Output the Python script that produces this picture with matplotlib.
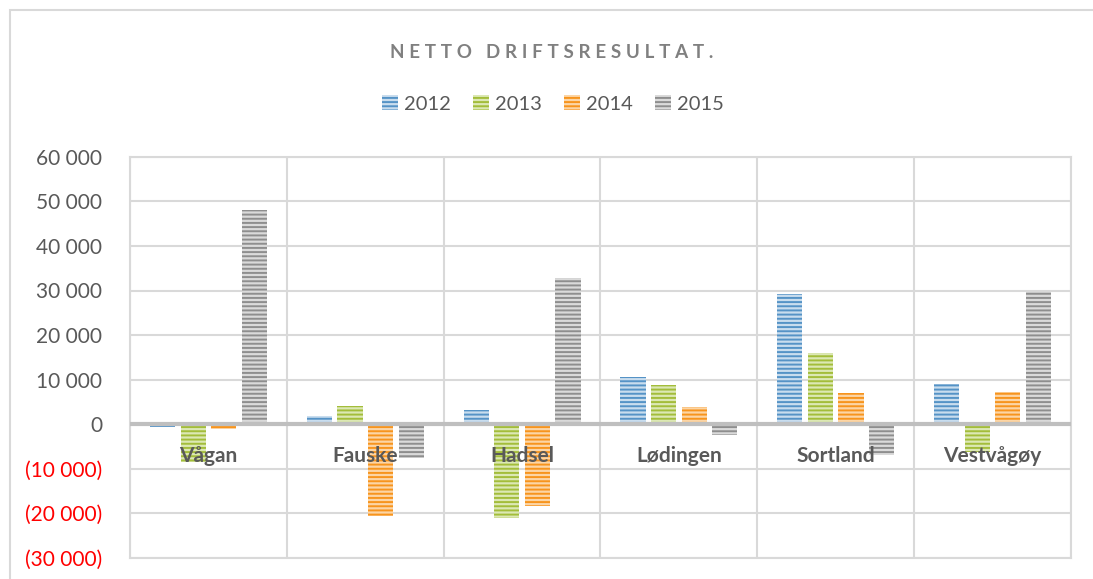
import matplotlib.pyplot as plt
import matplotlib.patches as mpatches
import numpy as np

plt.rcParams['font.family'] = ['Lato', 'DejaVu Sans']
plt.rcParams['hatch.linewidth'] = 1.4

kommuner = ["Vågan", "Fauske", "Hadsel", "Lødingen", "Sortland", "Vestvågøy"]
years = ["2012", "2013", "2014", "2015"]
res_2012 = [-600, 1700, 3200, 10500, 29200, 9000]
res_2013 = [-8500, 4100, -21100, 8700, 16000, -6400]
res_2014 = [-1100, -20700, -18400, 3900, 7000, 7100]
res_2015 = [48000, -7600, 32700, -2400, -7000, 29600]
series = [res_2012, res_2013, res_2014, res_2015]

dark = ["#5593C6", "#A3BD3A", "#F7941D", "#8E8E8E"]
light = ["#C9DDEE", "#DCE8B4", "#FCD5A5", "#DADADA"]

fig = plt.figure(figsize=(10.93, 5.79), dpi=100)
W, H = 1093, 579

# outer chart frame
fig.patches.append(mpatches.Rectangle((10 / W, -0.1), 1.2, 1 - 10 / H + 0.1,
                                      transform=fig.transFigure, fill=False,
                                      edgecolor="#D9D9D9", linewidth=1.5))

ax = fig.add_axes([130 / W, (H - 557.5) / H, (1071 - 130) / W, (557.5 - 157) / H])

x = np.arange(len(kommuner))
step = 0.195
width = 0.16
for k, vals in enumerate(series):
    ax.bar(x + (k - 1.5) * step, vals, width, facecolor=light[k],
           edgecolor=dark[k], hatch="----", linewidth=0, zorder=3)

ax.set_xlim(-0.5, len(kommuner) - 0.5)
ax.set_ylim(-30000, 60000)
ax.set_yticks(np.arange(-30000, 60001, 10000))

def fmt(v):
    s = f"{abs(v):,.0f}".replace(",", " ")
    return f"({s})" if v < 0 else s

ticks = ax.get_yticks()
ax.set_yticklabels([fmt(v) for v in ticks])
for lab, v in zip(ax.get_yticklabels(), ticks):
    lab.set_color("#FF0000" if v < 0 else "#595959")
    lab.set_fontsize(15)
ax.tick_params(axis="y", length=0, pad=20)

ax.set_xticks([])
ax.set_xticks(np.arange(len(kommuner) + 1) - 0.5, minor=True)
ax.tick_params(axis="x", which="both", length=0)
ax.grid(axis="y", color="#D9D9D9", linewidth=1.5, zorder=0)
ax.grid(axis="x", which="minor", color="#D9D9D9", linewidth=1.5, zorder=0)
for sp in ax.spines.values():
    sp.set_color("#D9D9D9")
    sp.set_linewidth(1.5)
ax.axhline(0, color="#BFBFBF", linewidth=3, zorder=4)

for i, name in enumerate(kommuner):
    ax.annotate(name, xy=(i, 0), xytext=(0, -23), textcoords="offset points",
                ha="center", va="center", fontsize=15, fontweight="bold",
                color="#595959", zorder=5)

title = "NETTO DRIFTSRESULTAT."
fig.text(0.505, 1 - 53 / H, "\u2009\u2009".join(title), ha="center", va="center",
         fontsize=13.5, fontweight="bold", color="#808080")

handles = [mpatches.Patch(facecolor=light[k], edgecolor=dark[k], hatch="----",
                          linewidth=0) for k in range(4)]
fig.legend(handles, years, loc="center", bbox_to_anchor=(0.506, 1 - 104 / H),
           ncol=4, frameon=False, fontsize=14.5, handlelength=0.8,
           handleheight=0.7, handletextpad=0.3, columnspacing=1.1,
           labelcolor="#595959")

fig.savefig("out.png", dpi=100)
